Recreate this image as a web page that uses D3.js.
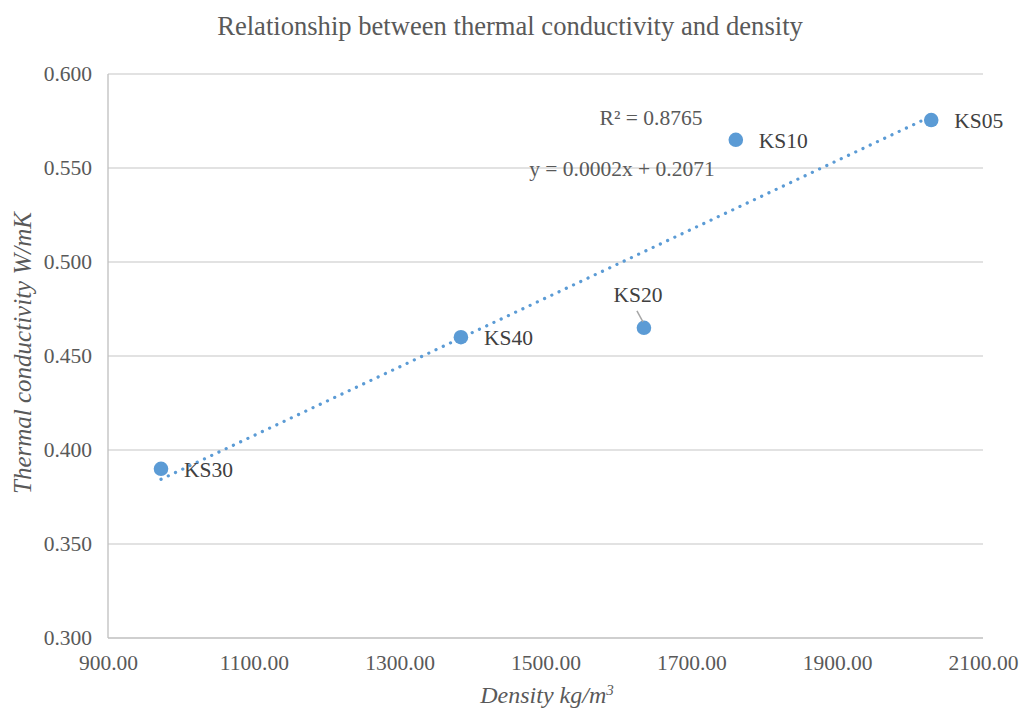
<!DOCTYPE html>
<html><head><meta charset="utf-8">
<script src="https://cdn.jsdelivr.net/npm/d3@7"></script>
<style>body{margin:0;background:#fff}svg{display:block}</style>
</head><body><svg id="c" width="1024" height="711"></svg>
<script>
const names = ["KS30","KS40","KS20","KS10","KS05"];
const density = [972.7, 1384, 1635, 1761, 2029];
const conductivity = [0.390, 0.460, 0.465, 0.565, 0.5755];
const xTicks = [900,1100,1300,1500,1700,1900,2100];
const yTicks = [0.300,0.350,0.400,0.450,0.500,0.550,0.600];
const r2Text = "R² = 0.8765";
const eqText = "y = 0.0002x + 0.2071";

const FONT = '"Liberation Serif", "Times New Roman", serif';
const svg = d3.select("#c");
const L=108, R=983, T=74, B=638;
const x = d3.scaleLinear().domain([900,2100]).range([L,R]);
const y = d3.scaleLinear().domain([0.3,0.6]).range([B,T]);
function txt(sel){ return sel.style("font-family",FONT); }

txt(svg.append("text")).attr("x",510).attr("y",35).attr("text-anchor","middle")
  .attr("font-size",26.6).attr("fill","#595959").text("Relationship between thermal conductivity and density");

// grid
svg.append("g").selectAll("line").data(yTicks.slice(1)).join("line")
  .attr("x1",L).attr("x2",R).attr("y1",d=>y(d)).attr("y2",d=>y(d))
  .attr("stroke","#d9d9d9").attr("stroke-width",1.3);
svg.append("line").attr("x1",L).attr("x2",L).attr("y1",T).attr("y2",B).attr("stroke","#bfbfbf").attr("stroke-width",1.3);
svg.append("line").attr("x1",L).attr("x2",R).attr("y1",B).attr("y2",B).attr("stroke","#bfbfbf").attr("stroke-width",1.3);

// tick labels via axes
const ya = svg.append("g").attr("transform",`translate(${L},0)`)
  .call(d3.axisLeft(y).tickValues(yTicks).tickFormat(d3.format(".3f")).tickSize(0).tickPadding(16));
ya.select(".domain").remove();
txt(ya.selectAll("text")).attr("font-size",21.5).attr("fill","#595959");
const xa = svg.append("g").attr("transform",`translate(0,${B})`)
  .call(d3.axisBottom(x).tickValues(xTicks).tickFormat(d3.format(".2f")).tickSize(0).tickPadding(17));
xa.select(".domain").remove();
txt(xa.selectAll("text")).attr("font-size",21.5).attr("fill","#595959");

// axis titles
const xt = txt(svg.append("text")).attr("x",547).attr("y",703).attr("text-anchor","middle")
  .attr("font-size",24).attr("font-style","italic").attr("fill","#595959");
xt.append("tspan").text("Density kg/m");
xt.append("tspan").attr("font-size",15).attr("dy",-8).text("3");
txt(svg.append("text")).attr("transform","translate(31,353) rotate(-90)").attr("text-anchor","middle")
  .attr("font-size",25).attr("font-style","italic").attr("fill","#595959").text("Thermal conductivity W/mK");

// trendline (least squares)
const n=density.length, mx=d3.mean(density), my=d3.mean(conductivity);
let sxy=0,sxx=0; for(let i=0;i<n;i++){sxy+=(density[i]-mx)*(conductivity[i]-my);sxx+=(density[i]-mx)**2;}
const slope=sxy/sxx, icpt=my-slope*mx;
const x0=d3.min(density), x1=d3.max(density);
svg.append("line").attr("x1",x(x0)).attr("y1",y(icpt+slope*x0)).attr("x2",x(x1)).attr("y2",y(icpt+slope*x1))
  .attr("stroke","#5b9bd5").attr("stroke-width",3.2).attr("stroke-linecap","round").attr("stroke-dasharray","0.1 7.9");

// points
const pts = names.map((nm,i)=>({nm,dx:density[i],cy:conductivity[i]}));
svg.append("g").selectAll("circle").data(pts).join("circle")
  .attr("cx",d=>x(d.dx)).attr("cy",d=>y(d.cy)).attr("r",7.3).attr("fill","#5b9bd5");

// labels
pts.forEach(d=>{
  const px=x(d.dx), py=y(d.cy);
  if(d.nm==="KS20"){
    svg.append("line").attr("x1",px-1).attr("y1",py-6).attr("x2",px-7).attr("y2",py-17).attr("stroke","#a6a6a6").attr("stroke-width",1.5);
    txt(svg.append("text")).attr("x",px-6).attr("y",py-26).attr("text-anchor","middle").attr("font-size",21.5).attr("fill","#404040").text(d.nm);
  } else {
    txt(svg.append("text")).attr("x",px+23).attr("y",py+8).attr("font-size",21.5).attr("fill","#404040").text(d.nm);
  }
});

txt(svg.append("text")).attr("x",651).attr("y",125).attr("text-anchor","middle").attr("font-size",21.5).attr("fill","#595959").text(r2Text);
txt(svg.append("text")).attr("x",622).attr("y",176).attr("text-anchor","middle").attr("font-size",21.5).attr("fill","#595959").text(eqText);
</script></body></html>
